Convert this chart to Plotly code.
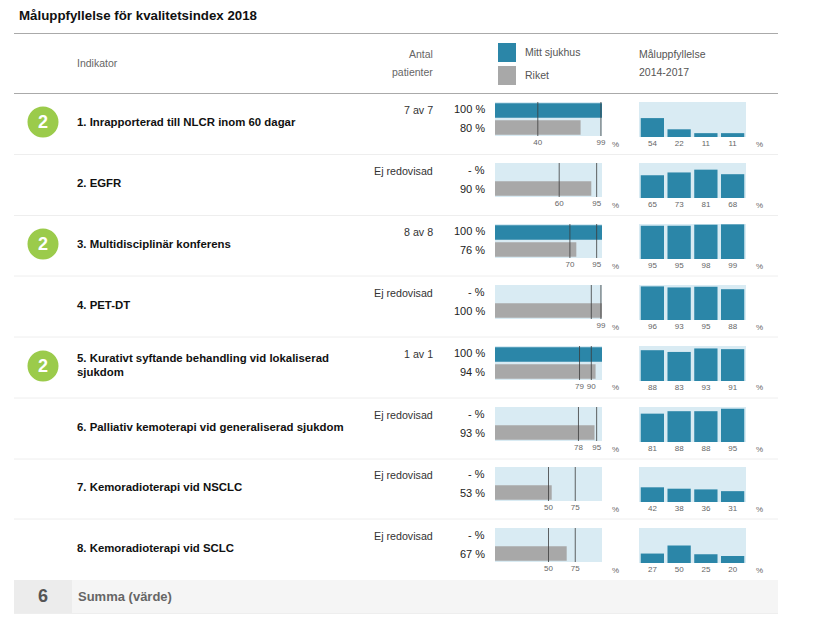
#!/usr/bin/env python3
"""
Måluppfyllelse table with small bar panels, drawn with Plotly
"""
import plotly.graph_objects as go

# Data
indicators = [
    "1. Inrapporterad till NLCR inom 60 dagar",
    "2. EGFR",
    "3. Multidisciplinär konferens",
    "4. PET-DT",
    "5. Kurativt syftande behandling vid lokaliserad<br>sjukdom",
    "6. Palliativ kemoterapi vid generaliserad sjukdom",
    "7. Kemoradioterapi vid NSCLC",
    "8. Kemoradioterapi vid SCLC",
]
patients = ["7 av 7", "Ej redovisad", "8 av 8", "Ej redovisad", "1 av 1",
            "Ej redovisad", "Ej redovisad", "Ej redovisad"]
scores = [2, None, 2, None, 2, None, None, None]
hospital = [100, None, 100, None, 100, None, None, None]
riket = [80, 90, 76, 100, 94, 93, 53, 67]
target_low = [40, 60, 70, 90, 79, 78, 50, 50]
target_high = [99, 95, 95, 99, 90, 95, 75, 75]
low_labels = ["40", "60", "70", "", "79", "78", "50", "50"]
high_labels = ["99", "95", "95", "99", "90", "95", "75", "75"]
history_years = [0, 1, 2, 3]
history = [
    [54, 22, 11, 11],
    [65, 73, 81, 68],
    [95, 95, 98, 99],
    [96, 93, 95, 88],
    [88, 83, 93, 91],
    [81, 88, 88, 95],
    [42, 38, 36, 31],
    [27, 50, 25, 20],
]
total = 6

# Page geometry in pixels
W, H = 817, 626
panel_tops = [102, 163, 224, 285, 346, 407, 467, 528]
separators = [154.5, 215.5, 276, 337, 398, 459, 519]
PANEL_H = 34

TEAL = "#2b86a8"
GREY = "#a8a8a8"
PANEL = "#d9ebf3"
LINE = "rgba(60,60,60,0.8)"
FONT = "Liberation Sans"


def px(x):
    return x / W


def py(y):
    return 1 - y / H


fig = go.Figure()
annotations = []
shapes = []


def label(x, y, text, size=11, color="#222222", anchor="left"):
    annotations.append(dict(
        x=px(x), y=py(y), xref="paper", yref="paper", text=text,
        showarrow=False, xanchor=anchor, yanchor="middle",
        font=dict(family=FONT, size=size, color=color),
        borderpad=0, borderwidth=0,
    ))


def rect(x0, y0, x1, y1, color):
    shapes.append(dict(type="rect", xref="paper", yref="paper", layer="below",
                       x0=px(x0), x1=px(x1), y0=py(y0), y1=py(y1),
                       fillcolor=color, line=dict(width=0)))


def hline(y, color):
    shapes.append(dict(type="line", xref="paper", yref="paper", layer="below",
                       x0=px(14), x1=px(778), y0=py(y), y1=py(y),
                       line=dict(color=color, width=1)))


axes = {}
tick_font = dict(family=FONT, size=8, color="#666666")

for i, top in enumerate(panel_tops):
    left_n = 2 * i + 1
    right_n = 2 * i + 2
    left_x, left_y = f"x{left_n}", f"y{left_n}"
    right_x, right_y = f"x{right_n}", f"y{right_n}"

    # Left panel: hospital and national bars with target lines
    fig.add_trace(go.Bar(
        x=[hospital[i], riket[i]], y=[1, 0], orientation="h", width=0.85,
        marker=dict(color=[TEAL, GREY], line=dict(width=0)),
        xaxis=left_x, yaxis=left_y, showlegend=False,
    ))
    for target in (target_low[i], target_high[i]):
        fig.add_trace(go.Scatter(
            x=[target, target], y=[-0.5, 1.5], mode="lines",
            line=dict(color=LINE, width=1),
            xaxis=left_x, yaxis=left_y, showlegend=False,
        ))
    axes[f"xaxis{left_n}"] = dict(
        domain=[px(495), px(602)], range=[0, 100], anchor=left_y,
        automargin=False, showgrid=False, zeroline=False, showline=False,
        tickmode="array", tickvals=[target_low[i], target_high[i]],
        ticktext=[low_labels[i], high_labels[i]], tickangle=0,
        ticks="", ticklen=0, tickfont=tick_font,
    )
    axes[f"yaxis{left_n}"] = dict(
        domain=[py(top + PANEL_H), py(top)], range=[-0.5, 1.5], anchor=left_x,
        automargin=False, visible=False, showgrid=False, zeroline=False,
    )

    # Right panel: history bars
    fig.add_trace(go.Bar(
        x=history_years, y=history[i], width=0.87,
        marker=dict(color=TEAL, line=dict(width=0)),
        xaxis=right_x, yaxis=right_y, showlegend=False,
    ))
    axes[f"xaxis{right_n}"] = dict(
        domain=[px(639), px(746)], range=[-0.5, 3.5], anchor=right_y,
        automargin=False, showgrid=False, zeroline=False, showline=False,
        tickmode="array", tickvals=history_years,
        ticktext=[str(v) for v in history[i]], tickangle=0,
        ticks="", ticklen=0, tickfont=tick_font,
    )
    axes[f"yaxis{right_n}"] = dict(
        domain=[py(top + PANEL_H + 1), py(top)], range=[0, 100], anchor=right_x,
        automargin=False, visible=False, showgrid=False, zeroline=False,
    )

    # Row text
    lines = indicators[i].split("<br>")
    if len(lines) == 1:
        label(77, top + 20, f"<b>{lines[0]}</b>", size=11.4, color="#111111")
    else:
        for k, line in enumerate(lines):
            label(77, top + 12 + 14 * k, f"<b>{line}</b>", size=11.4, color="#111111")
    label(433, top + 8, patients[i], size=10.7, color="#333333", anchor="right")
    hosp_text = "- %" if hospital[i] is None else f"{hospital[i]} %"
    label(485, top + 7, hosp_text, size=11, anchor="right")
    label(485, top + 26, f"{riket[i]} %", size=11, anchor="right")
    label(612, top + 42, "%", size=8, color="#666666")
    label(756, top + 42, "%", size=8, color="#666666")

    # Score badge
    if scores[i] is not None:
        cy = top + 20
        shapes.append(dict(type="circle", xref="paper", yref="paper", layer="below",
                           x0=px(27.5), x1=px(58.5), y0=py(cy + 15.5), y1=py(cy - 15.5),
                           fillcolor="#9bcb4b", line=dict(width=0)))
        label(43, cy, f"<b>{scores[i]}</b>", size=18, color="white", anchor="center")

# Frame lines and summary row
hline(33.5, "#aaaaaa")
hline(93.5, "#aaaaaa")
for y in separators:
    hline(y, "#eeeeee")
rect(14, 580, 778, 613, "#f5f5f5")
rect(14, 580, 72, 613, "#ececec")
hline(613.5, "#eeeeee")

# Header text and legend
label(19, 15, "<b>Måluppfyllelse för kvalitetsindex 2018</b>", size=13.3, color="#111111")
label(77, 63, "Indikator", size=10.5, color="#666666")
label(433, 54, "Antal", size=10.5, color="#666666", anchor="right")
label(433, 72, "patienter", size=10.5, color="#666666", anchor="right")
rect(498, 43, 516, 62, TEAL)
rect(498, 66, 516, 85, GREY)
label(525, 52, "Mitt sjukhus", size=10.5, color="#555555")
label(525, 75, "Riket", size=10.5, color="#555555")
label(639, 54, "Måluppfyllelse", size=10.5, color="#555555")
label(639, 72, "2014-2017", size=10.5, color="#555555")
label(43, 596, f"<b>{total}</b>", size=18, color="#555555", anchor="center")
label(78, 596, "<b>Summa (värde)</b>", size=13, color="#666666")

fig.update_layout(
    width=W, height=H,
    margin=dict(l=0, r=0, t=0, b=0),
    paper_bgcolor="white",
    plot_bgcolor=PANEL,
    barmode="overlay",
    showlegend=False,
    annotations=annotations,
    shapes=shapes,
    **axes,
)

fig.write_html(
    "out.html",
    config={"displayModeBar": False},
    post_script="document.body.style.margin='0';document.body.style.overflow='hidden';",
)
